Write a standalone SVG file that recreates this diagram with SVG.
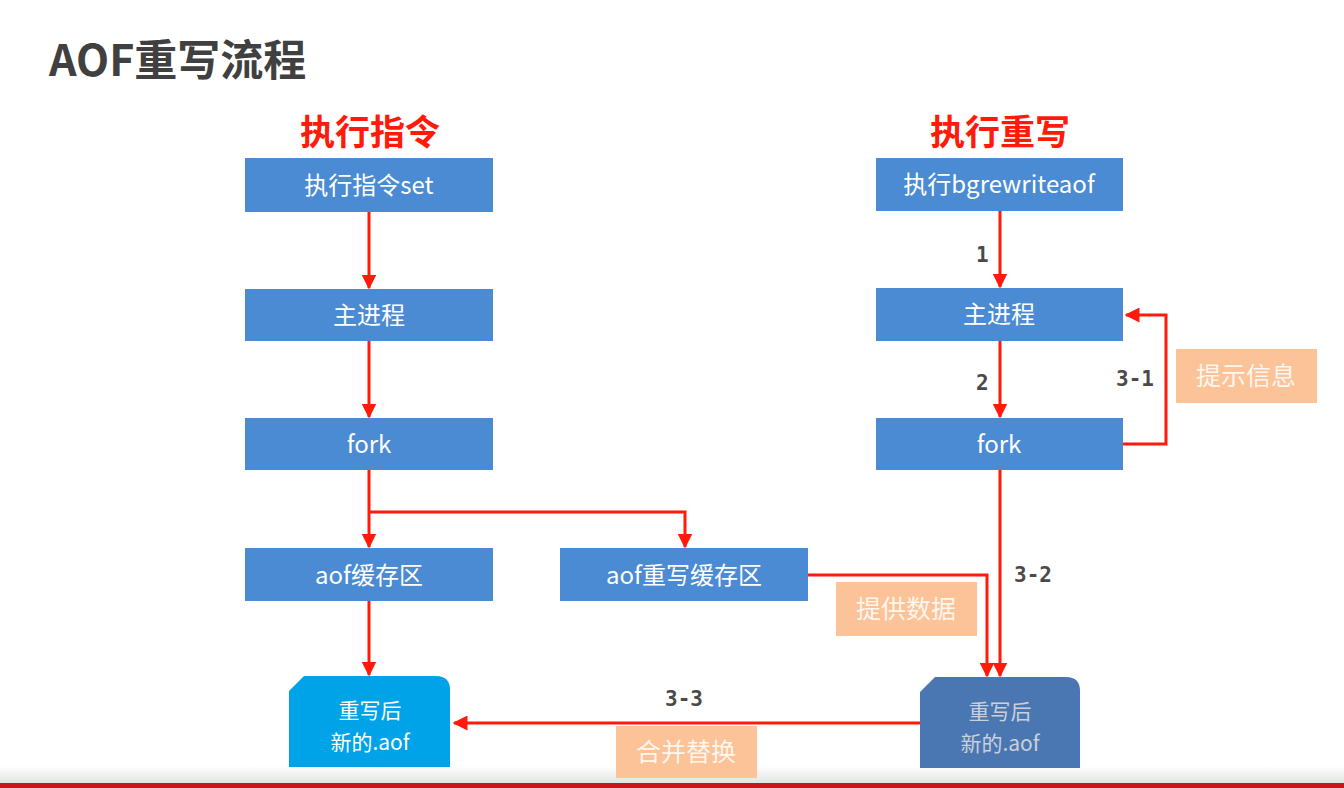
<svg xmlns="http://www.w3.org/2000/svg" width="1344" height="788" viewBox="0 0 1344 788">
<defs>
<marker id="ah" viewBox="0 0 10 10" refX="9" refY="5" markerWidth="5" markerHeight="5" markerUnits="strokeWidth" orient="auto">
<path d="M0,0 L10,5 L0,10 z" fill="#ff1a0a"/>
</marker>
<linearGradient id="fade" x1="0" y1="0" x2="0" y2="1">
<stop offset="0" stop-color="#ffffff"/>
<stop offset="1" stop-color="#e4e4e4"/>
</linearGradient>
</defs>
<style>
.box{fill:#4b8bd3;}
.bt{fill:#ffffff;font-family:"Noto Sans CJK SC","Noto Sans",sans-serif;font-size:24px;text-anchor:middle;}
.bt2{fill:#ffffff;font-family:"Noto Sans CJK SC","Noto Sans",sans-serif;font-size:21px;text-anchor:middle;}
.note{fill:#fbc397;}
.nt{fill:#fff6ee;font-family:"Noto Sans CJK SC",sans-serif;font-size:25px;text-anchor:middle;}
.num{fill:#4a4a4a;font-family:"DejaVu Sans Mono","Liberation Mono",monospace;font-weight:bold;font-size:21px;}
.hd{fill:#ff1a0a;font-family:"Noto Sans CJK SC",sans-serif;font-weight:bold;font-size:35px;text-anchor:middle;}
.ln{fill:none;stroke:#ff1a0a;stroke-width:3;marker-end:url(#ah);}
</style>
<rect width="1344" height="788" fill="#ffffff"/>
<rect x="0" y="766" width="1344" height="17" fill="url(#fade)"/>
<rect x="0" y="783" width="1344" height="5" fill="#c8161a"/>
<text x="49" y="76" font-family="'Noto Sans CJK SC',sans-serif" font-weight="bold" font-size="43" fill="#404040">AOF重写流程</text>
<text class="hd" x="370" y="145">执行指令</text>
<text class="hd" x="1000" y="145">执行重写</text>

<g id="connectors">
<path class="ln" d="M369,212 V288"/>
<path class="ln" d="M369,341 V417"/>
<path class="ln" d="M369,470 V547"/>
<path class="ln" d="M369,512 H685 V547"/>
<path class="ln" d="M369,601 V675"/>
<path class="ln" d="M808,575 H987 V676"/>
<path class="ln" d="M1000,470 V676"/>
<path class="ln" d="M1000,211 V287"/>
<path class="ln" d="M1000,341 V417"/>
<path class="ln" d="M1123,444 H1166 V315 H1126"/>
<path class="ln" d="M920,723 H454"/>
<text class="num" x="976" y="262">1</text>
<text class="num" x="976" y="390">2</text>
<text class="num" x="1116" y="386">3-1</text>
<text class="num" x="1014" y="582">3-2</text>
<text class="num" x="665" y="706">3-3</text>
</g>

<g id="n1"><rect class="box" x="245" y="158" width="248" height="54"/><text class="bt" x="369" y="194">执行指令set</text></g>
<g id="n2"><rect class="box" x="245" y="289" width="248" height="52"/><text class="bt" x="369" y="324">主进程</text></g>
<g id="n3"><rect class="box" x="245" y="418" width="248" height="52"/><text class="bt" x="369" y="453">fork</text></g>
<g id="n4"><rect class="box" x="245" y="548" width="248" height="53"/><text class="bt" x="369" y="584">aof缓存区</text></g>
<g id="n5"><rect class="box" x="560" y="548" width="248" height="53"/><text class="bt" x="684" y="584">aof重写缓存区</text></g>
<g id="n6"><path d="M289,691 L304,676 H436 Q450,676 450,690 V767 H289 Z" fill="#00a2e8"/><text class="bt2" x="370" y="718">重写后</text><text class="bt2" x="370" y="750">新的.aof</text></g>
<g id="n7"><rect class="box" x="876" y="158" width="247" height="53"/><text class="bt" x="999" y="193">执行bgrewriteaof</text></g>
<g id="n8"><rect class="box" x="876" y="288" width="247" height="53"/><text class="bt" x="999" y="323">主进程</text></g>
<g id="n9"><rect class="box" x="876" y="418" width="247" height="52"/><text class="bt" x="999" y="453">fork</text></g>
<g id="n10"><path d="M920,692 L935,677 H1066 Q1080,677 1080,691 V768 H920 Z" fill="#4a76b2"/><text class="bt2" x="1000" y="719" style="fill:#c9d0da">重写后</text><text class="bt2" x="1000" y="751" style="fill:#c9d0da">新的.aof</text></g>
<g id="note1"><rect class="note" x="1176" y="349" width="141" height="54"/><text class="nt" x="1246" y="385">提示信息</text></g>
<g id="note2"><rect class="note" x="836" y="582" width="141" height="54"/><text class="nt" x="906" y="618">提供数据</text></g>
<g id="note3"><rect class="note" x="616" y="726" width="141" height="52"/><text class="nt" x="686" y="761">合并替换</text></g>
</svg>
